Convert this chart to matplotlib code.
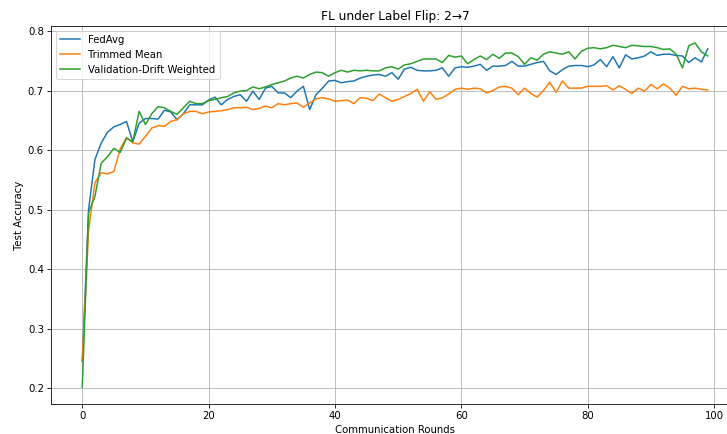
import matplotlib
matplotlib.use("Agg")
import matplotlib.pyplot as plt
import numpy as np

rounds = list(range(100))

fedavg = [0.245, 0.500, 0.584, 0.612, 0.630, 0.639, 0.643, 0.648, 0.614, 0.645,
          0.653, 0.653, 0.652, 0.667, 0.664, 0.651, 0.661, 0.676, 0.676, 0.676,
          0.684, 0.689, 0.676, 0.685, 0.690, 0.693, 0.682, 0.699, 0.685, 0.704,
          0.707, 0.696, 0.696, 0.688, 0.699, 0.707, 0.668, 0.693, 0.704, 0.716,
          0.717, 0.713, 0.715, 0.716, 0.721, 0.724, 0.726, 0.727, 0.724, 0.730,
          0.719, 0.736, 0.739, 0.734, 0.733, 0.733, 0.734, 0.738, 0.724, 0.738,
          0.740, 0.739, 0.741, 0.744, 0.734, 0.741, 0.741, 0.742, 0.749, 0.741,
          0.741, 0.744, 0.747, 0.749, 0.733, 0.727, 0.735, 0.741, 0.742, 0.742,
          0.740, 0.743, 0.752, 0.740, 0.757, 0.738, 0.760, 0.753, 0.755, 0.758,
          0.765, 0.759, 0.761, 0.761, 0.759, 0.758, 0.747, 0.755, 0.748, 0.770]

trimmed_mean = [0.247, 0.465, 0.545, 0.562, 0.560, 0.564, 0.602, 0.621, 0.612, 0.610,
                0.623, 0.637, 0.641, 0.640, 0.648, 0.651, 0.661, 0.665, 0.665, 0.661,
                0.664, 0.665, 0.666, 0.668, 0.671, 0.671, 0.672, 0.668, 0.670, 0.674,
                0.671, 0.678, 0.676, 0.678, 0.679, 0.672, 0.679, 0.686, 0.688, 0.686,
                0.682, 0.683, 0.684, 0.678, 0.688, 0.687, 0.683, 0.694, 0.688, 0.682,
                0.685, 0.690, 0.695, 0.702, 0.682, 0.698, 0.685, 0.688, 0.694, 0.702,
                0.704, 0.702, 0.704, 0.703, 0.696, 0.700, 0.706, 0.707, 0.704, 0.693,
                0.704, 0.695, 0.689, 0.700, 0.714, 0.697, 0.716, 0.704, 0.704, 0.704,
                0.707, 0.707, 0.707, 0.708, 0.701, 0.708, 0.702, 0.695, 0.704, 0.699,
                0.710, 0.703, 0.711, 0.704, 0.692, 0.707, 0.703, 0.704, 0.702, 0.701]

vdw = [0.202, 0.495, 0.522, 0.578, 0.589, 0.603, 0.596, 0.620, 0.614, 0.665,
       0.643, 0.661, 0.673, 0.671, 0.665, 0.660, 0.671, 0.682, 0.678, 0.678,
       0.683, 0.685, 0.688, 0.690, 0.696, 0.699, 0.700, 0.706, 0.703, 0.706,
       0.710, 0.713, 0.716, 0.721, 0.724, 0.721, 0.727, 0.731, 0.730, 0.724,
       0.730, 0.734, 0.731, 0.734, 0.733, 0.734, 0.733, 0.733, 0.738, 0.740,
       0.736, 0.743, 0.745, 0.749, 0.753, 0.753, 0.753, 0.747, 0.759, 0.756,
       0.758, 0.745, 0.752, 0.758, 0.752, 0.761, 0.754, 0.763, 0.763, 0.757,
       0.744, 0.755, 0.751, 0.761, 0.765, 0.763, 0.761, 0.765, 0.753, 0.766,
       0.771, 0.772, 0.770, 0.772, 0.776, 0.774, 0.772, 0.776, 0.775, 0.774,
       0.774, 0.772, 0.769, 0.770, 0.761, 0.738, 0.775, 0.780, 0.765, 0.758]

labels = ["FedAvg", "Trimmed Mean", "Validation-Drift Weighted"]
title = "FL under Label Flip: 2\u21927"

fig = plt.figure(figsize=(10, 5.97), dpi=72.7)
ax = fig.add_axes([51 / 727, 29.7 / 434, (739 - 51) / 727, (408.3 - 29.7) / 434])
ax.plot(rounds, fedavg, label=labels[0])
ax.plot(rounds, trimmed_mean, label=labels[1])
ax.plot(rounds, vdw, label=labels[2])
ax.set_title(title)
ax.set_xlabel("Communication Rounds")
ax.set_ylabel("Test Accuracy")
ax.grid(True)
ax.legend(loc="upper left")
fig.savefig("out.png", dpi=72.7)
